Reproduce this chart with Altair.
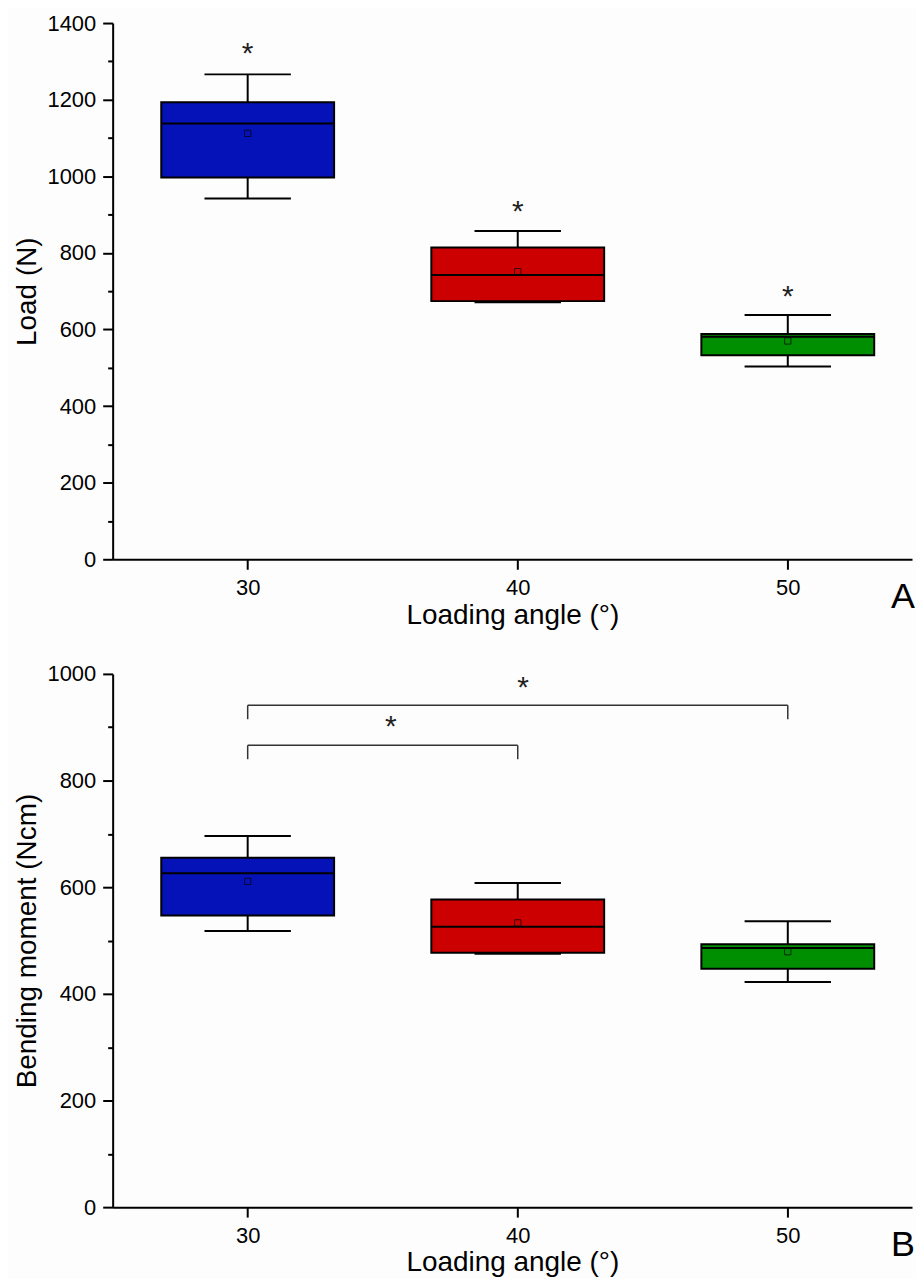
import altair as alt
import pandas as pd

# ---------------- data ----------------
angles = [30, 40, 50]
box_colors = ["#0512B8", "#CC0000", "#008F00"]

load_low = [942, 671, 503]
load_q1 = [997, 674, 533]
load_median = [1138, 742, 581]
load_q3 = [1193, 814, 588]
load_high = [1266, 857, 638]
load_mean = [1112, 751, 570]
load_star_y = [1333, 920, 697]

moment_low = [518, 475, 422]
moment_q1 = [547, 477, 447]
moment_median = [626, 526, 486]
moment_q3 = [655, 577, 493]
moment_high = [696, 608, 536]
moment_mean = [611, 533, 479]

bracket_from = [30, 30]
bracket_to = [40, 50]
bracket_level = [866, 941]
bracket_leg_end = [840, 915]
bracket_star_x = [35.3, 40.2]
bracket_star_y = [910, 983]

x_ticks = [30, 40, 50]
load_ticks = [0, 100, 200, 300, 400, 500, 600, 700, 800, 900, 1000, 1100, 1200, 1300, 1400]
moment_ticks = [0, 100, 200, 300, 400, 500, 600, 700, 800, 900, 1000]

FONT = "Liberation Sans"
BOX_HALF = 3.2
CAP_HALF = 1.6
W = 802
H_TOP = 538
H_BOTTOM = 535


def box_df(low, q1, med, q3, high, mean):
    return pd.DataFrame({
        "angle": angles, "low": low, "q1": q1, "median": med,
        "q3": q3, "high": high, "mean": mean, "color": box_colors,
    })


def make_y_axis(title, ticks):
    return alt.Axis(
        title=title, values=ticks, grid=False, format="d",
        labelExpr="datum.value % 200 === 0 ? datum.label : ''",
        tickSize={"condition": {"test": "datum.value % 200 !== 0", "value": 5}, "value": 10},
        tickColor="black", tickWidth=2, domainColor="black", domainWidth=2,
        labelFont=FONT, labelFontSize=22, labelColor="black", labelPadding=7,
        titleFont=FONT, titleFontSize=28, titleFontWeight="normal", titleColor="black",
        titlePadding=5,
    )


x_axis = alt.Axis(
    title="Loading angle (°)", values=x_ticks, grid=False, format="d",
    tickSize=10, tickColor="black", tickWidth=2, domainColor="black", domainWidth=2,
    labelFont=FONT, labelFontSize=22, labelColor="black", labelPadding=8,
    titleFont=FONT, titleFontSize=28, titleFontWeight="normal", titleColor="black",
    titlePadding=3,
)
x_scale = alt.Scale(domain=[25, 54.6], nice=False, zero=False)


def panel(df, ymax, ticks, ytitle, letter, height, extra_layers=()):
    y_scale = alt.Scale(domain=[0, ymax], nice=False)
    y_axis = make_y_axis(ytitle, ticks)

    def X(f):
        return alt.X(f, scale=x_scale, axis=x_axis)

    def Y(f):
        return alt.Y(f, scale=y_scale, axis=y_axis)

    base = alt.Chart(df).transform_calculate(
        xl=f"datum.angle - {BOX_HALF}", xr=f"datum.angle + {BOX_HALF}",
        cl=f"datum.angle - {CAP_HALF}", cr=f"datum.angle + {CAP_HALF}",
    )
    boxes = base.mark_rect(stroke="black", strokeWidth=2).encode(
        x=X("xl:Q"), x2="xr:Q", y=Y("q1:Q"), y2="q3:Q",
        fill=alt.Fill("color:N", scale=None),
    )
    stem_hi = base.mark_rule(color="black", strokeWidth=2).encode(
        x=X("angle:Q"), y=Y("q3:Q"), y2="high:Q")
    stem_lo = base.mark_rule(color="black", strokeWidth=2).encode(
        x=X("angle:Q"), y=Y("low:Q"), y2="q1:Q")
    cap_hi = base.mark_rule(color="black", strokeWidth=2).encode(
        x=X("cl:Q"), x2="cr:Q", y=Y("high:Q"))
    cap_lo = base.mark_rule(color="black", strokeWidth=2).encode(
        x=X("cl:Q"), x2="cr:Q", y=Y("low:Q"))
    median = base.mark_rule(color="black", strokeWidth=2).encode(
        x=X("xl:Q"), x2="xr:Q", y=Y("median:Q"))
    mean = base.mark_point(shape="square", size=40, filled=False, strokeWidth=1,
                           color="black", opacity=0.7).encode(
        x=X("angle:Q"), y=Y("mean:Q"))
    label = alt.Chart(pd.DataFrame({"t": [letter]})).mark_text(
        font=FONT, fontSize=36, color="black", align="center", baseline="middle"
    ).encode(text="t:N", x=alt.value(W - 9), y=alt.value(height + 38))
    layers = [stem_hi, stem_lo, cap_hi, cap_lo, boxes, median, mean]
    for lay in extra_layers:
        layers.append(lay(X, Y))
    layers.append(label)
    return alt.layer(*layers).properties(width=W, height=height)


df_load = box_df(load_low, load_q1, load_median, load_q3, load_high, load_mean)
df_load["star"] = load_star_y


def load_stars(X, Y):
    return alt.Chart(df_load).mark_text(
        text="*", font=FONT, fontSize=30, color="#222", baseline="alphabetic", dy=14
    ).encode(x=X("angle:Q"), y=Y("star:Q"))


df_mom = box_df(moment_low, moment_q1, moment_median, moment_q3, moment_high, moment_mean)

seg_rows = []
for f, t, lv, le in zip(bracket_from, bracket_to, bracket_level, bracket_leg_end):
    seg_rows.append({"xa": f, "xb": t, "ya": lv, "yb": lv})
    seg_rows.append({"xa": f, "xb": f, "ya": lv, "yb": le})
    seg_rows.append({"xa": t, "xb": t, "ya": lv, "yb": le})
df_seg = pd.DataFrame(seg_rows)
df_bstar = pd.DataFrame({"x": bracket_star_x, "y": bracket_star_y})


def brackets(X, Y):
    return alt.Chart(df_seg).mark_rule(color="#333", strokeWidth=1.5).encode(
        x=X("xa:Q"), x2="xb:Q", y=Y("ya:Q"), y2="yb:Q")


def bracket_stars(X, Y):
    return alt.Chart(df_bstar).mark_text(
        text="*", font=FONT, fontSize=30, color="#222", baseline="alphabetic", dy=14
    ).encode(x=X("x:Q"), y=Y("y:Q"))


top = panel(df_load, 1400, load_ticks, "Load (N)", "A", H_TOP, [load_stars])
bottom = panel(df_mom, 1000, moment_ticks, "Bending moment (Ncm)", "B", H_BOTTOM,
               [brackets, bracket_stars])

chart = alt.vconcat(top, bottom, spacing=34).properties(
    padding={"left": 6, "top": 2, "right": 0, "bottom": 0},
    background="#fdfdfd",
).configure_view(stroke=None)

chart.save("out.html", embed_options={"renderer": "svg", "actions": False})
